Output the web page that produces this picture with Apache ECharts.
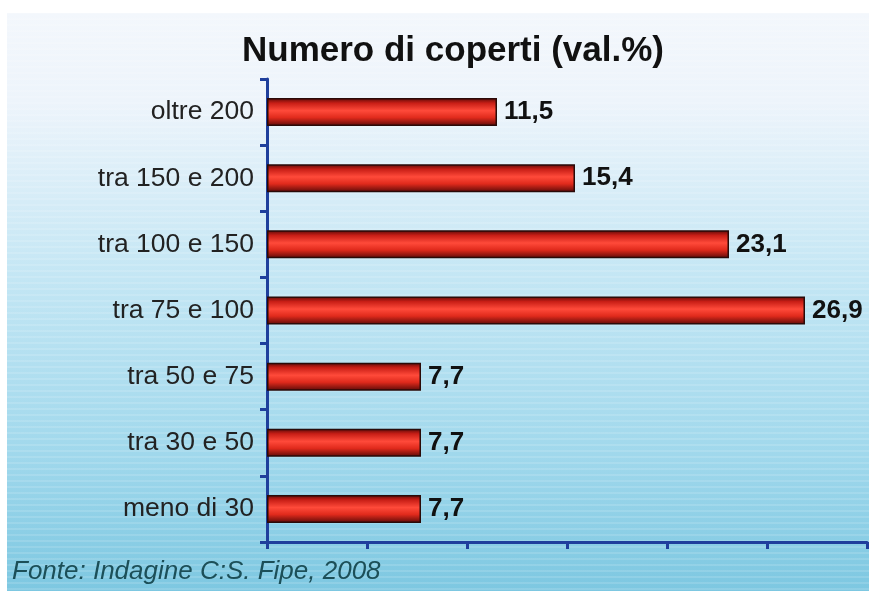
<!DOCTYPE html>
<html><head><meta charset="utf-8">
<script src="https://cdn.jsdelivr.net/npm/echarts@6/dist/echarts.min.js"></script>
<style>html,body{margin:0;padding:0;background:#fff}#c{width:869px;height:591px}</style>
</head><body><div id="c"></div>
<script>
const categories = ['meno di 30','tra 30 e 50','tra 50 e 75','tra 75 e 100','tra 100 e 150','tra 150 e 200','oltre 200'];
const values = [7.7, 7.7, 7.7, 26.9, 23.1, 15.4, 11.5];
const titleText = 'Numero di coperti (val.%)';
const sourceText = 'Fonte: Indagine C:S. Fipe, 2008';

// stripe pattern canvas
const pc = document.createElement('canvas');
pc.width = 8; pc.height = 6;
const pctx = pc.getContext('2d');
pctx.fillStyle = 'rgba(255,255,255,0.13)';
pctx.fillRect(0, 0, 8, 2);

const chart = echarts.init(document.getElementById('c'), null, {renderer: 'canvas'});
const font = '"Liberation Sans", Arial, sans-serif';
const bgFill = new echarts.graphic.LinearGradient(0, 0, 0, 1, [
  {offset: 0, color: '#f3f7fc'},
  {offset: 0.15, color: '#edf4fb'},
  {offset: 0.45, color: '#c3e6f4'},
  {offset: 0.75, color: '#a0d8ec'},
  {offset: 1, color: '#7ac6e0'}]);
chart.setOption({
  animation: false,
  graphic: [
    {type: 'rect', z: -10, shape: {x: 7, y: 13, width: 870, height: 590}, style: {fill: bgFill}},
    {type: 'rect', z: -9, shape: {x: 7, y: 13, width: 870, height: 590},
     style: {fill: {image: pc, repeat: 'repeat'}}},
    {type: 'text', left: 12, top: 559, z: 10,
     style: {text: sourceText, font: 'italic 26px ' + font, fill: '#1c4f58'}}
  ],
  title: {
    text: titleText, left: 448, top: 29, textAlign: 'center',
    textStyle: {fontFamily: font, fontWeight: 'bold', fontSize: 35, color: '#111'}
  },
  grid: {left: 267, right: 2, top: 79, bottom: 49, containLabel: false},
  xAxis: {
    type: 'value', min: 0, max: 30, interval: 5,
    axisLine: {show: true, lineStyle: {color: '#1f3f9c', width: 3}},
    axisTick: {show: true, length: 7, lineStyle: {color: '#1f3f9c', width: 3}},
    axisLabel: {show: false}, splitLine: {show: false}
  },
  yAxis: {
    type: 'category', data: categories,
    axisLine: {show: true, lineStyle: {color: '#1f3f9c', width: 3}},
    axisTick: {show: true, length: 7, lineStyle: {color: '#1f3f9c', width: 3}},
    axisLabel: {fontFamily: font, fontSize: 26.5, color: '#222', margin: 13}
  },
  series: [{
    type: 'bar', data: values, barWidth: 28,
    itemStyle: {
      color: new echarts.graphic.LinearGradient(0, 0, 0, 1, [
        {offset: 0, color: '#5a0a08'},
        {offset: 0.18, color: '#c81e16'},
        {offset: 0.45, color: '#ff4a3a'},
        {offset: 0.7, color: '#e02a1c'},
        {offset: 1, color: '#5a0a08'}]),
      borderColor: '#2a0a08', borderWidth: 1.5
    },
    label: {
      show: true, position: 'right', distance: 7,
      fontFamily: font, fontWeight: 'bold', fontSize: 26, color: '#111',
      formatter: p => String(p.value).replace('.', ',')
    }
  }]
});
</script></body></html>
